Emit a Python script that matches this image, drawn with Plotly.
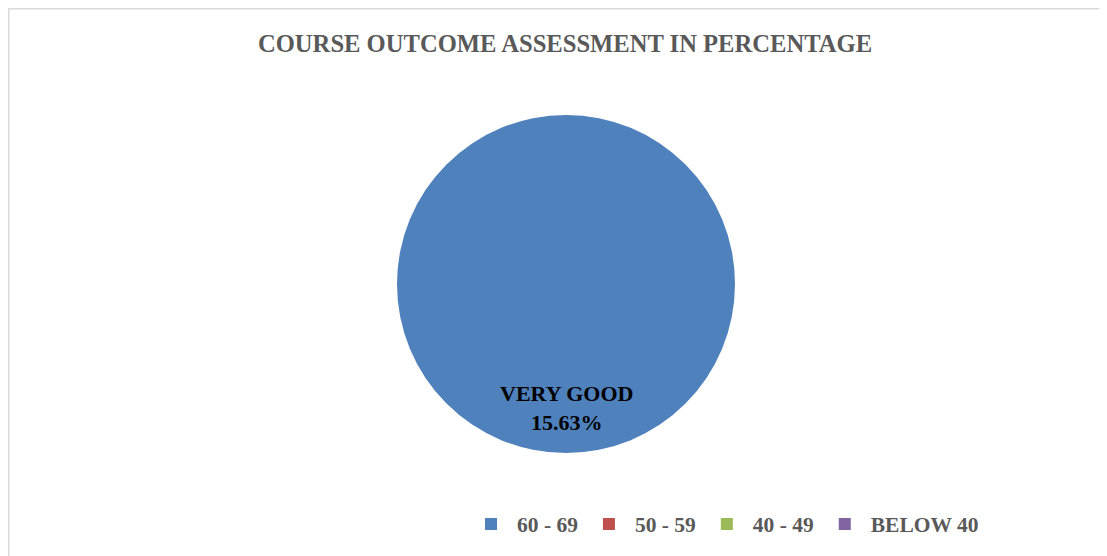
import plotly.graph_objects as go

categories = ["60 - 69", "50 - 59", "40 - 49", "BELOW 40"]
values = [15.63, 0, 0, 0]
colors = ["#4F81BD", "#C0504D", "#9BBB59", "#8064A2"]
label_name = "VERY GOOD"
title_text = "COURSE OUTCOME ASSESSMENT IN PERCENTAGE"

W, H = 1107, 556
OFF = 8  # page body margin offset
FONT = "Liberation Serif, Times New Roman, serif"


def px(x):
    return (x - OFF) / W


def py(y):
    return 1 - (y - OFF) / H


fig = go.Figure(go.Pie(
    labels=categories,
    values=values,
    marker=dict(colors=colors, line=dict(width=0)),
    textinfo="none",
    sort=False,
    direction="clockwise",
    rotation=0,
    hoverinfo="label+value",
    domain=dict(x=[px(397), px(735)], y=[py(453), py(115)]),
))

fig.add_annotation(
    x=px(566), y=py(408), xref="paper", yref="paper",
    xanchor="center", yanchor="middle",
    text=f"{label_name}<br>{values[0]:.2f}%",
    showarrow=False, font=dict(family=FONT, size=22, color="#000000", weight="bold"),
    align="center",
)

fig.add_shape(
    type="rect", xref="paper", yref="paper",
    x0=0.75 / W, x1=1.02, y0=-0.02, y1=1 - 0.75 / H,
    line=dict(color="#D9D9D9", width=1.5), layer="below",
)

fig.update_layout(
    width=W, height=H,
    margin=dict(l=0, r=0, t=0, b=0),
    paper_bgcolor="white", plot_bgcolor="white",
    title=dict(
        text=title_text, x=px(565), xanchor="center",
        y=py(43), yanchor="middle",
        font=dict(family=FONT, size=24.6, color="#595959", weight="bold"),
    ),
    legend=dict(
        orientation="h", x=px(465), xanchor="left", y=py(524), yanchor="middle",
        font=dict(family=FONT, size=21.5, color="#595959", weight="bold"),
        traceorder="normal",
        itemwidth=42,
        itemclick=False,
    ),
    showlegend=True,
)

fig.write_html("out.html")
